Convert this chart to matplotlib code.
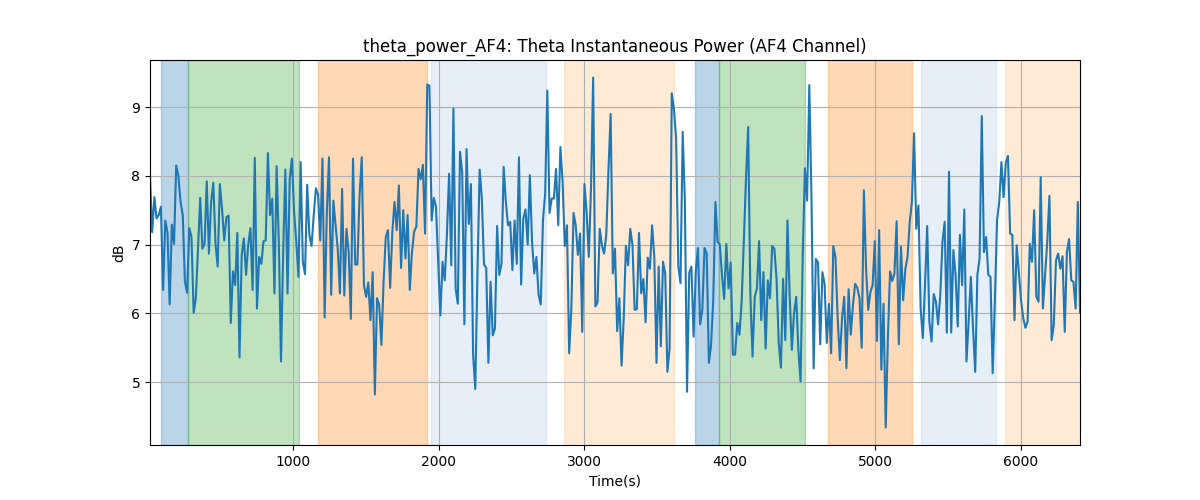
import matplotlib
matplotlib.use("Agg")
import matplotlib.pyplot as plt
import numpy as np

power = [8.0, 7.18, 7.69, 7.38, 7.43, 7.55, 6.34, 7.35, 7.18, 6.13, 7.29, 7.01, 8.15, 8.0, 7.62, 7.43, 6.46, 6.30,
         7.24, 7.11, 6.01, 6.22, 6.94, 7.68, 6.94, 7.01, 7.92, 6.87, 7.62, 7.90, 7.01, 6.68, 7.88, 7.52, 7.06, 7.40,
         7.42, 5.86, 6.61, 6.41, 7.17, 5.36, 6.85, 7.09, 6.56, 7.0, 7.24, 6.34, 8.26, 6.07, 6.82, 6.72, 7.05, 7.06,
         8.33, 7.43,
         7.67, 6.29, 8.14, 7.04, 5.30, 6.89, 8.09, 6.29, 7.96, 8.25, 7.47, 7.04, 6.53, 8.20, 6.75, 6.57, 7.87, 7.14,
         6.98, 7.43, 7.82, 7.72, 7.06, 8.25, 5.94, 7.47, 8.27, 6.27, 7.64, 7.28, 6.94, 6.29, 7.81, 6.26, 7.23, 6.89,
         5.92, 8.25, 6.71, 6.71, 7.72, 8.27, 6.41, 6.24, 6.45, 5.90, 6.60, 4.82, 6.22, 6.12, 5.54, 6.46, 7.11, 7.21,
         6.37,
         7.18, 7.62, 7.21, 7.86, 6.66, 7.50, 6.80, 7.43, 6.34, 6.89, 7.19, 7.26, 8.10, 7.95, 8.16, 7.16, 9.33, 9.31,
         7.35, 7.68, 7.55, 6.75, 5.97, 6.75, 6.48, 7.14, 8.03, 6.70, 8.98, 6.36, 6.14, 8.35, 8.05, 5.84, 8.39, 7.30,
         7.88, 5.40, 4.90, 6.60, 8.09, 7.67, 6.71, 6.66, 5.28, 6.46, 5.68, 5.78, 7.27, 6.56, 6.72, 8.13, 7.62, 7.28,
         7.33,
         6.63, 7.35, 6.72, 8.27, 6.42, 7.38, 7.51, 7.00, 8.01, 7.04, 6.58, 6.82, 6.27, 6.13, 7.35, 7.74, 9.24, 7.46,
         7.67, 7.67, 8.10, 7.28, 8.42, 7.91, 6.98, 7.28, 5.42, 6.07, 7.46, 7.28, 6.85, 7.16, 5.73, 7.88, 7.47, 6.82,
         7.81, 9.43, 6.10, 6.16, 7.23, 6.99, 6.87, 7.14, 8.08, 8.90, 6.58, 6.94, 5.74, 6.22, 5.24, 5.93, 6.98, 6.70,
         7.23,
         6.99, 6.05, 6.06, 7.17, 6.29, 6.50, 5.87, 6.81, 6.65, 7.28, 6.82, 5.28, 6.68, 5.52, 6.75, 6.58, 5.15, 5.49,
         9.20, 8.97, 8.54, 6.68, 6.44, 8.64, 7.64, 4.86, 6.59, 6.68, 5.66, 6.61, 6.95, 5.84, 6.05, 6.95, 6.87, 5.28,
         5.54, 6.19, 7.62, 7.04, 7.0, 6.56, 6.21, 7.01, 6.36, 6.74, 5.40, 5.40, 5.86, 5.69, 6.17, 7.04, 7.96, 8.71,
         6.27, 5.37, 6.24, 6.36, 7.05, 5.90, 6.60, 5.49, 6.48, 6.22, 6.98, 6.94, 6.50, 5.57, 5.21, 6.50, 5.61, 7.35,
         6.27, 5.47, 6.0, 6.24, 5.47, 5.01, 6.85, 8.11, 7.64, 9.32, 7.67, 5.20, 6.79, 6.74, 5.55, 6.60, 6.43, 5.57,
         6.14, 5.42, 6.98, 6.81, 5.93, 5.32, 5.93, 6.24, 5.20, 6.35, 5.69, 6.12, 6.43, 6.37, 6.22, 5.50, 7.79, 6.65,
         6.05, 6.31,
         6.41, 7.05, 5.60, 7.21, 5.18, 6.14, 4.34, 5.64, 6.61, 6.47, 6.58, 7.34, 5.55, 6.97, 6.19, 6.65, 6.82, 7.33,
         7.62, 8.62, 7.23, 7.57, 6.07, 5.64, 6.41, 7.27, 5.88, 5.59, 6.28, 6.17, 5.84, 6.27, 7.04, 7.33, 5.72, 8.06,
         5.72, 6.92, 6.56, 5.81, 7.14, 6.41, 7.51, 5.30, 5.88, 6.53, 5.78, 5.15, 6.56, 6.80, 8.87, 6.89, 7.11, 6.56,
         6.53,
         5.13, 6.17, 7.35, 7.62, 8.20, 7.69, 8.19, 8.29, 7.16, 7.14, 5.90, 6.99, 6.58, 6.19, 5.93, 5.79, 5.88, 7.01,
         6.75, 7.50, 6.24, 6.17, 7.98, 6.07, 6.56, 7.04, 7.71, 5.61, 5.83, 6.77, 6.87, 6.65, 6.83, 5.73, 6.89, 7.08,
         6.48, 6.46, 6.07, 7.62, 6.01]

t_start = 18
t_end = 6405

# shaded segments
span_start = [94, 281, 1172, 1948, 2861, 3761, 3928, 4674, 5313, 5890]
span_end = [281, 1043, 1918, 2735, 3617, 3928, 4514, 5249, 5828, 6420]
span_color = ['tab:blue', 'tab:green', 'tab:orange', '#aec7e8', '#ffbb78',
              'tab:blue', 'tab:green', 'tab:orange', '#aec7e8', '#ffbb78']

time = np.linspace(t_start, t_end, len(power))

fig, ax = plt.subplots(figsize=(12, 5), dpi=100)
for s, e, c in zip(span_start, span_end, span_color):
    ax.axvspan(s, e, color=c, alpha=0.3)
ax.plot(time, power, color='tab:blue')
ax.set_xlim(time[0], time[-1])
ax.set_title('theta_power_AF4: Theta Instantaneous Power (AF4 Channel)')
ax.set_xlabel('Time(s)')
ax.set_ylabel('dB')
ax.grid(True)
plt.savefig('out.png')
